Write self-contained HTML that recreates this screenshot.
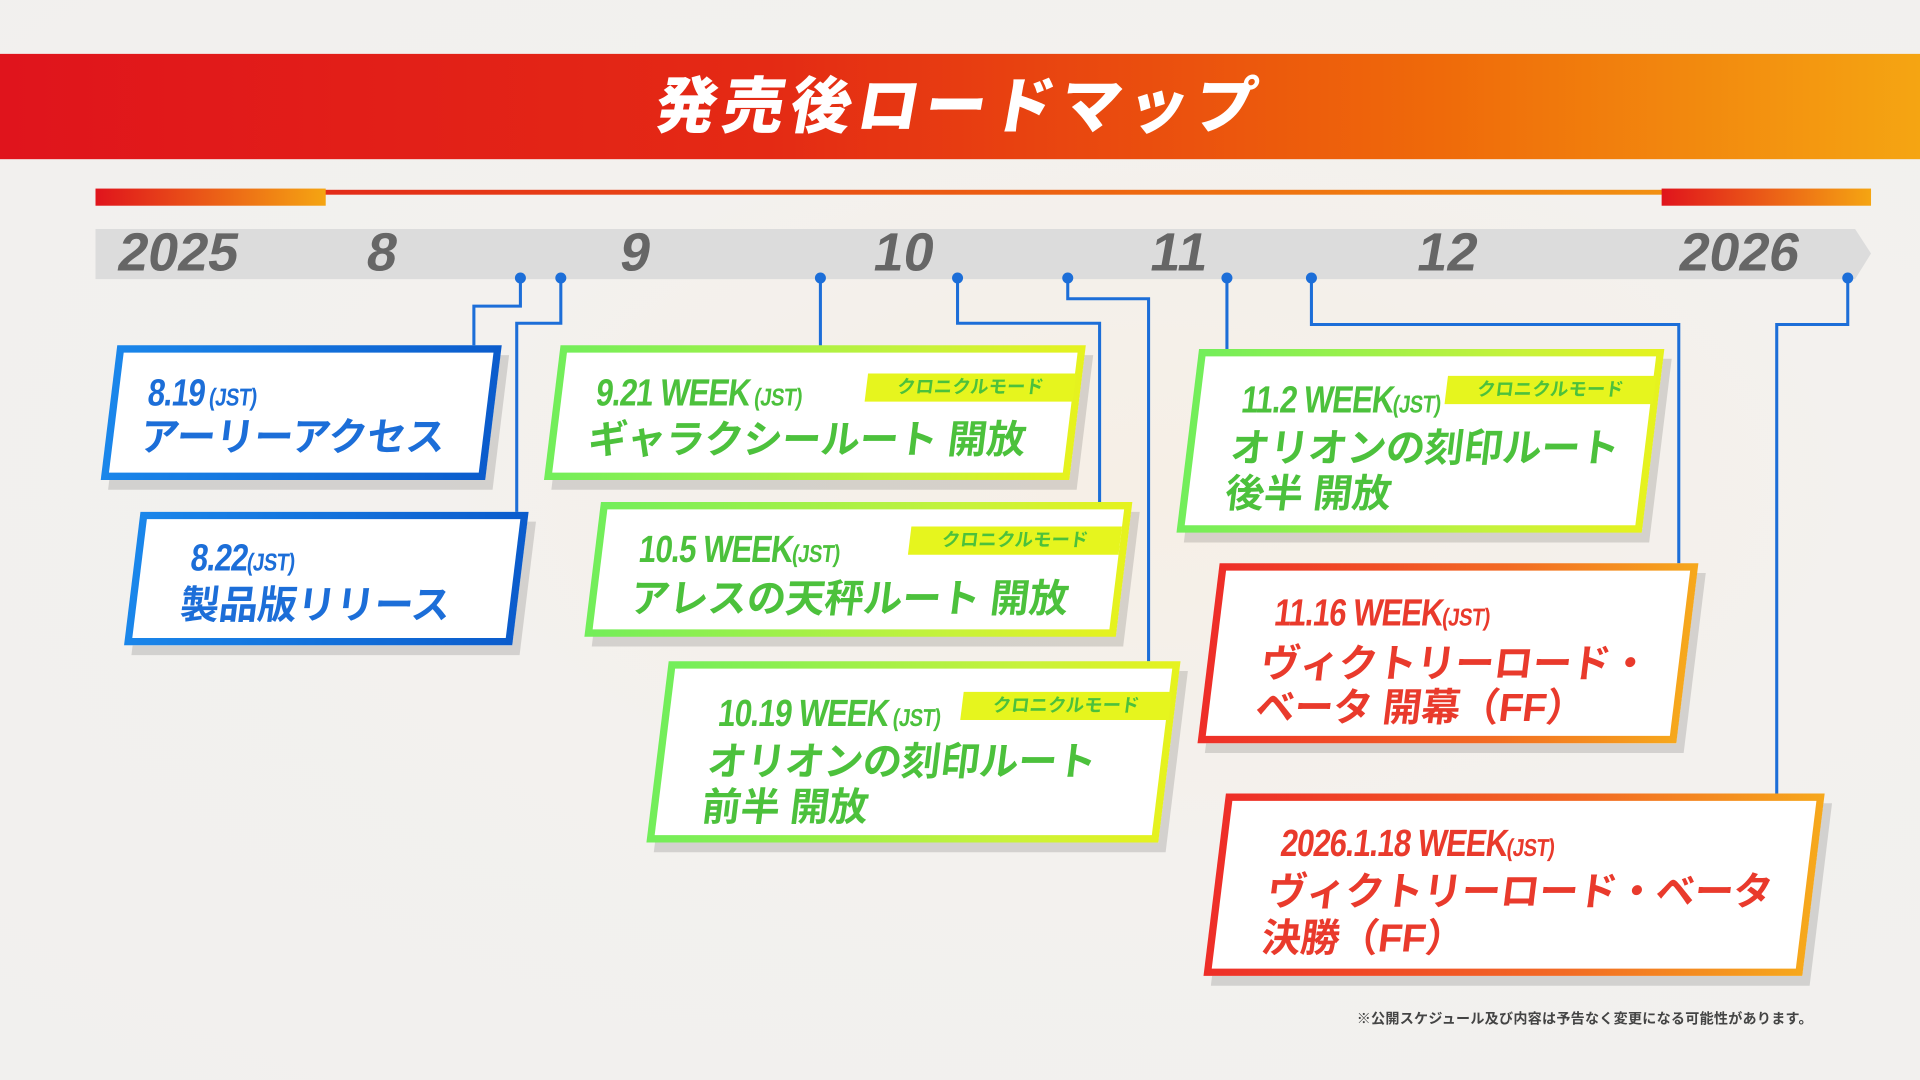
<!DOCTYPE html>
<html><head><meta charset="utf-8"><style>
html,body{margin:0;padding:0;width:1920px;height:1080px;overflow:hidden;background:#f2f0ed;}
#s{position:absolute;left:0;top:0;width:1568px;height:882px;transform:scale(1.22449);transform-origin:0 0;font-family:"Liberation Sans","Noto Sans CJK JP",sans-serif;font-weight:bold;
background:radial-gradient(ellipse at 60% 45%,#f6efe6 0%,#f3f1ee 45%,#f1f0ee 100%);}
.abs{position:absolute}
.hdr{left:0;top:44px;width:1568px;height:86px;background:linear-gradient(90deg,#e0141c 0%,#e42a14 40%,#ef6a0a 75%,#f5a512 100%);}
.title{left:0;width:1568px;top:47px;text-align:center;color:#fff;font-size:50px;letter-spacing:5px;transform:skewX(-10deg);font-weight:900;}
.box{position:absolute;transform:skewX(-7deg);padding:6px;box-shadow:7px 8px 0 rgba(0,0,0,0.13);box-sizing:border-box;}
.in{background:#fff;width:100%;height:100%;position:relative;}
.blue{background:linear-gradient(90deg,#1a86ea,#0b5ccc);}
.green{background:linear-gradient(90deg,#72ee5a,#c8f23a 70%,#e6f21e);}
.red{background:linear-gradient(90deg,#ee2e28,#f26a24 60%,#f6a81c);}
.t{position:absolute;white-space:nowrap;font-size:32px;line-height:1;letter-spacing:-0.3px}
.dd{position:absolute;white-space:nowrap;line-height:1;transform:scaleX(0.82);transform-origin:0 50%}
.d{font-size:31px;letter-spacing:-1px}
.j{font-size:20px;letter-spacing:-0.5px}
.cb{color:#1c6ed8}.cg{color:#4cc13c}.cr{color:#e93a2c}
.tag{position:absolute;background:#e6f51e;color:#4cc13c;font-size:15px;text-align:center;line-height:23px;height:23px}
.yr{position:absolute;top:184px;color:#666;font-size:44px;transform:skewX(-10deg);line-height:46px}
</style></head><body><div id="s">
<div class="abs hdr"></div>
<div class="abs title">発売後ロードマップ</div>
<div class="abs" style="left:78px;top:155px;width:1450px;height:4px;background:linear-gradient(90deg,#e01a1a,#ee6a10 60%,#f3a012)"></div>
<div class="abs" style="left:78px;top:154px;width:188px;height:14px;background:linear-gradient(90deg,#e0141c,#f5a512)"></div>
<div class="abs" style="left:1357px;top:154px;width:171px;height:14px;background:linear-gradient(90deg,#e0141c,#f5a512)"></div>
<svg class="abs" style="left:0;top:0" width="1568" height="882">
<polygon points="78,187 1515,187 1528,207 1515,228 78,228" fill="#dcdcdc"/>
<g stroke="#1c6ed8" stroke-width="2.5" fill="none">
<polyline points="425,227 425,250 387,250 387,282"/>
<polyline points="458,227 458,264 422,264 422,418"/>
<polyline points="670,227 670,283"/>
<polyline points="782,227 782,264 898,264 898,410"/>
<polyline points="872,227 872,244 938,244 938,540"/>
<polyline points="1002,227 1002,285"/>
<polyline points="1071,227 1071,265 1371,265 1371,460"/>
<polyline points="1509,227 1509,265 1451,265 1451,648"/>
</g>
<g fill="#1c6ed8">
<circle cx="425" cy="227" r="4.5"/><circle cx="458" cy="227" r="4.5"/><circle cx="670" cy="227" r="4.5"/><circle cx="782" cy="227" r="4.5"/><circle cx="872" cy="227" r="4.5"/><circle cx="1002" cy="227" r="4.5"/><circle cx="1071" cy="227" r="4.5"/><circle cx="1509" cy="227" r="4.5"/>
</g>
</svg>
<div class="yr" style="left:97px">2025</div>
<div class="yr" style="left:300px">8</div>
<div class="yr" style="left:507px">9</div>
<div class="yr" style="left:714px">10</div>
<div class="yr" style="left:940px">11</div>
<div class="yr" style="left:1158px">12</div>
<div class="yr" style="left:1372px">2026</div>

<div class="box blue" style="left:89px;top:282px;width:314px;height:110px"><div class="in">
<div class="dd cb" style="left:24px;top:17px"><span class="d">8.19</span><span class="j"> (JST)</span></div>
<div class="t cb" style="left:22px;top:53px">アーリーアクセス</div></div></div>

<div class="box blue" style="left:108px;top:418px;width:317px;height:109px"><div class="in">
<div class="dd cb" style="left:40px;top:16px"><span class="d">8.22</span><span class="j">(JST)</span></div>
<div class="t cb" style="left:36px;top:54px">製品版リリース</div></div></div>

<div class="box green" style="left:451px;top:282px;width:429px;height:110px"><div class="in">
<div class="dd cg" style="left:28px;top:17px"><span class="d">9.21 WEEK</span><span class="j"> (JST)</span></div>
<div class="tag" style="left:248px;top:17px;width:170px">クロニクルモード</div>
<div class="t cg" style="left:26px;top:55px">ギャラクシールート 開放</div></div></div>

<div class="box green" style="left:484px;top:410px;width:434px;height:110px"><div class="in">
<div class="dd cg" style="left:30px;top:17px"><span class="d">10.5 WEEK</span><span class="j">(JST)</span></div>
<div class="tag" style="left:250px;top:14px;width:172px">クロニクルモード</div>
<div class="t cg" style="left:28px;top:57px">アレスの天秤ルート 開放</div></div></div>

<div class="box green" style="left:537px;top:540px;width:418px;height:148px"><div class="in">
<div class="dd cg" style="left:40px;top:21px"><span class="d">10.19 WEEK</span><span class="j"> (JST)</span></div>
<div class="tag" style="left:238px;top:19px;width:170px">クロニクルモード</div>
<div class="t cg" style="left:36px;top:60px">オリオンの刻印ルート</div>
<div class="t cg" style="left:36px;top:97px">前半 開放</div></div></div>

<div class="box green" style="left:970px;top:285px;width:380px;height:150px"><div class="in">
<div class="dd cg" style="left:34px;top:20px"><span class="d">11.2 WEEK</span><span class="j">(JST)</span></div>
<div class="tag" style="left:200px;top:16px;width:170px">クロニクルモード</div>
<div class="t cg" style="left:30px;top:59px">オリオンの刻印ルート</div>
<div class="t cg" style="left:30px;top:96px">後半 開放</div></div></div>

<div class="box red" style="left:987px;top:460px;width:391px;height:147px"><div class="in">
<div class="dd cr" style="left:44px;top:19px"><span class="d">11.16 WEEK</span><span class="j">(JST)</span></div>
<div class="t cr" style="left:38px;top:60px">ヴィクトリーロード・</div>
<div class="t cr" style="left:38px;top:96px">ベータ 開幕（FF）</div></div></div>

<div class="box red" style="left:992px;top:648px;width:489px;height:149px"><div class="in">
<div class="dd cr" style="left:44px;top:19px"><span class="d">2026.1.18 WEEK</span><span class="j">(JST)</span></div>
<div class="t cr" style="left:38px;top:58px">ヴィクトリーロード・ベータ</div>
<div class="t cr" style="left:38px;top:96px">決勝（FF）</div></div></div>

<div class="abs" style="left:1108px;top:824px;font-size:11.5px;color:#444;white-space:nowrap;letter-spacing:0.2px">※公開スケジュール及び内容は予告なく変更になる可能性があります。</div>
</div></body></html>
